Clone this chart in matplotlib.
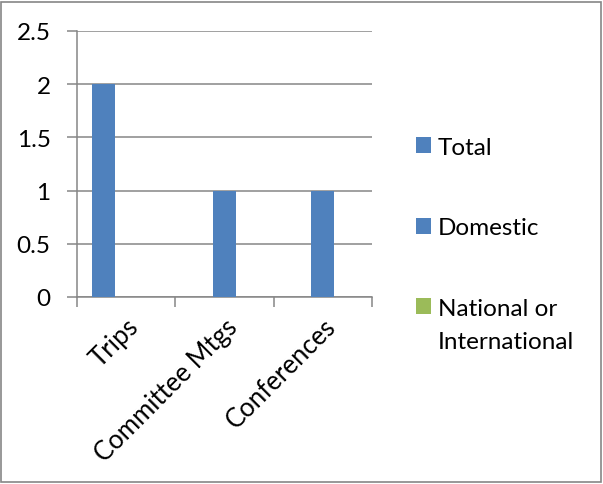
import numpy as np
import matplotlib.pyplot as plt
from matplotlib.patches import Rectangle

plt.rcParams['font.family'] = ['Lato', 'DejaVu Sans']

# Data
categories = ['Trips', 'Committee Mtgs', 'Conferences']
series_names = ['Total', 'Domestic', 'National or International']
total = [2, 0, 0]
domestic = [0, 1, 1]
national = [0, 0, 0]
series_values = [total, domestic, national]
colors = ['#4F81BD', '#4F81BD', '#9BBB59']
y_ticks = [0, 0.5, 1, 1.5, 2, 2.5]

fs = 17.5
fig = plt.figure(figsize=(6.03, 4.85), dpi=100)
ax = fig.add_axes([77 / 603, 187 / 485, 295 / 603, 266 / 485])

x = np.arange(len(categories))
width = 0.234
bars = []
for i, (vals, col) in enumerate(zip(series_values, colors)):
    b = ax.bar(x + (i - 1) * width, vals, width, color=col, label=series_names[i], zorder=3)
    bars.append(b)

ax.set_xlim(-0.5, len(categories) - 0.5)
ax.set_ylim(0, 2.5)
ax.set_yticks(y_ticks)
ax.set_yticklabels(['0', '0.5', '1', '1.5', '2', '2.5'])
ax.grid(axis='y', color='#868686', linewidth=1.1, zorder=0)

# category boundaries for tick marks, labels at centres
ax.set_xticks(np.arange(-0.5, len(categories), 1))
ax.set_xticklabels([])
ax.set_xticks(x, minor=True)
ax.set_xticklabels(categories, minor=True, rotation=45, ha='right',
                   rotation_mode='anchor', fontsize=18.5)
ax.tick_params(axis='x', which='minor', length=0, pad=12)
ax.tick_params(axis='x', which='major', length=7, width=1.1, color='#868686')
ax.tick_params(axis='y', length=7, width=1.1, color='#868686', labelsize=fs, pad=12)

for s in ['top', 'right']:
    ax.spines[s].set_visible(False)
for s in ['left', 'bottom']:
    ax.spines[s].set_color('#868686')
    ax.spines[s].set_linewidth(1.1)

# legend: last label wraps onto a second line under the first, like Excel
leg_labels = ['Total', 'Domestic', 'National or']
leg = fig.legend(handles=bars, labels=leg_labels, loc='upper left',
                 bbox_to_anchor=(406 / 603, 1 - 128 / 485), frameon=False,
                 fontsize=fs, labelspacing=2.45, handlelength=0.62, handleheight=0.62,
                 handletextpad=0.3, borderaxespad=0)
fig.canvas.draw()
bb = leg.get_texts()[2].get_window_extent()
fig.text(bb.x0 / 603, (bb.y0 - 29) / 485, 'International', fontsize=fs)

fig.patches.append(Rectangle((0.002, 0.004), 0.994, 0.99, transform=fig.transFigure,
                             fill=False, edgecolor='#868686', linewidth=1.2))

fig.savefig('out.png', dpi=100)
